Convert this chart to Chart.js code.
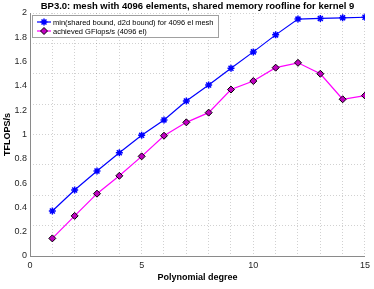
<html>
  <head>
    <meta charset="UTF-8">
    <title>BP3.0 roofline</title>
    <script src="https://cdn.jsdelivr.net/npm/chart.js@4.4.0/dist/chart.umd.min.js"></script>
    <style>
      body { margin: 0; background: #fff; }
      .chartWrapper { width: 374px; height: 289px; }
    </style>
  </head>
  <body>
    <div class="chartWrapper">
      <canvas id="chartRoofline" width="374" height="289"></canvas>
    </div>

    <script>
      // polynomial degree
      const degrees = [1, 2, 3, 4, 5, 6, 7, 8, 9, 10, 11, 12, 13, 14, 15];
      // min(shared bound, d2d bound), TFLOPS/s
      const boundValues = [0.37, 0.543, 0.70, 0.85, 0.993, 1.12, 1.276, 1.407, 1.545, 1.68, 1.82, 1.95, 1.955, 1.96, 1.965];
      // achieved, TFLOPS/s
      const achievedValues = [0.145, 0.33, 0.513, 0.66, 0.82, 0.99, 1.10, 1.18, 1.37, 1.44, 1.55, 1.59, 1.50, 1.29, 1.32];

      const xTickLabels = [0, 5, 10, 15];
      const yTickLabels = [0, 0.2, 0.4, 0.6, 0.8, 1, 1.2, 1.4, 1.6, 1.8, 2];

      const boundLabel = 'min(shared bound, d2d bound) for 4096 el mesh';
      const achievedLabel = 'achieved GFlops/s (4096 el)';
      const titleText = 'BP3.0: mesh with 4096 elements, shared memory roofline for kernel 9';

      const fontFamily = '"Liberation Sans", Arial, sans-serif';
      const axisColor = '#262626';
      const axisLineColor = '#8a8a8a';
      const gridColor = 'rgba(0,0,0,0.18)';

      // title centred over the axes, like matlab
      const axesTitle = {
        id: 'axesTitle',
        afterDraw(chart) {
          const ctx = chart.ctx;
          const area = chart.chartArea;
          ctx.save();
          ctx.font = 'bold 9.5px ' + fontFamily;
          ctx.fillStyle = '#000';
          ctx.textAlign = 'center';
          ctx.textBaseline = 'middle';
          ctx.fillText(titleText, (area.left + area.right) / 2, 6);
          ctx.restore();
        }
      };

      // matlab style legend drawn inside the axes
      const insideLegend = {
        id: 'insideLegend',
        afterDatasetsDraw(chart) {
          const ctx = chart.ctx;
          const area = chart.chartArea;
          const x0 = area.left + 2, y0 = area.top + 2;
          const w = 186, h = 22;
          ctx.save();
          ctx.fillStyle = '#fff';
          ctx.fillRect(x0, y0, w, h);
          ctx.strokeStyle = '#a0a0a0';
          ctx.lineWidth = 1;
          ctx.strokeRect(x0 + 0.5, y0 + 0.5, w, h);
          ctx.font = '7.5px ' + fontFamily;
          ctx.textBaseline = 'middle';
          chart.data.datasets.forEach((ds, i) => {
            const yy = y0 + 7 + i * 9;
            ctx.strokeStyle = ds.borderColor;
            ctx.lineWidth = 1.2;
            ctx.beginPath();
            ctx.moveTo(x0 + 5, yy);
            ctx.lineTo(x0 + 19, yy);
            ctx.stroke();
            ctx.fillStyle = ds.pointBackgroundColor;
            ctx.strokeStyle = ds.pointBorderColor;
            ctx.lineWidth = ds.pointBorderWidth;
            Chart.helpers.drawPoint(ctx, {
              pointStyle: ds.pointStyle,
              radius: ds.pointRadius,
              rotation: 0,
              borderWidth: ds.pointBorderWidth
            }, x0 + 12, yy);
            ctx.fillStyle = '#000';
            ctx.fillText(ds.label, x0 + 21, yy + 0.5);
          });
          ctx.restore();
        }
      };

      document.addEventListener("DOMContentLoaded", function() {
        chartRoofline = new Chart(document.getElementById('chartRoofline'), {
          type: 'line',
          data: {
            labels: degrees,
            datasets: [{
              label: boundLabel,
              data: degrees.map((d, i) => ({x: d, y: boundValues[i]})),
              borderColor: '#0000ff',
              borderWidth: 1.2,
              pointStyle: 'star',
              pointRadius: 3.5,
              pointBorderWidth: 1.5,
              pointBorderColor: '#0000ff',
              pointBackgroundColor: '#0000ff',
            }, {
              label: achievedLabel,
              data: degrees.map((d, i) => ({x: d, y: achievedValues[i]})),
              borderColor: '#ff00ff',
              borderWidth: 1.2,
              pointStyle: 'rectRot',
              pointRadius: 3.5,
              pointBorderWidth: 1,
              pointBorderColor: '#000',
              pointBackgroundColor: '#c000c0',
            }]
          },
          options: {
            responsive: false,
            animation: false,
            layout: {
              padding: {left: 0, right: 7, top: 13, bottom: 0}
            },
            scales: {
              x: {
                type: 'linear',
                min: 0,
                max: 15,
                afterFit: (s) => { s.height = 33; },
                afterBuildTicks: (s) => {
                  s.ticks = degrees.concat([0]).sort((a, b) => a - b).map(v => ({value: v}));
                },
                ticks: {
                  autoSkip: false,
                  maxRotation: 0,
                  padding: 4,
                  color: axisColor,
                  font: {family: fontFamily, size: 9},
                  callback: (v) => xTickLabels.includes(v) ? String(v) : '',
                },
                grid: {
                  color: gridColor,
                  drawTicks: false,
                },
                border: {
                  color: axisLineColor,
                  width: 1,
                  dash: [1, 2],
                },
                title: {
                  display: true,
                  text: 'Polynomial degree',
                  color: '#000',
                  font: {family: fontFamily, size: 9, weight: 'bold'},
                  padding: {top: 0, bottom: 6},
                },
              },
              y: {
                min: 0,
                max: 2,
                afterFit: (s) => { s.width = 30; },
                afterBuildTicks: (s) => {
                  s.ticks = yTickLabels.map(v => ({value: v}));
                },
                ticks: {
                  padding: 3,
                  color: axisColor,
                  font: {family: fontFamily, size: 9},
                  callback: (v) => String(Math.round(v * 10) / 10),
                },
                grid: {
                  drawOnChartArea: false,
                  drawTicks: false,
                },
                border: {
                  color: axisLineColor,
                  width: 1,
                },
                title: {
                  display: true,
                  text: 'TFLOPS/s',
                  color: '#000',
                  font: {family: fontFamily, size: 9, weight: 'bold'},
                  padding: {top: 2, bottom: 0},
                },
              },
              // grid at quarter steps, as in the reference
              yGrid: {
                type: 'linear',
                position: 'left',
                min: 0,
                max: 2,
                afterFit: (s) => { s.width = 0; },
                ticks: {display: false, stepSize: 0.25},
                grid: {
                  color: gridColor,
                  drawTicks: false,
                },
                border: {
                  display: false,
                  dash: [1, 2],
                },
              },
            },
            plugins: {
              legend: {display: false},
              tooltip: {enabled: false},
              title: {display: false},
            },
          },
          plugins: [insideLegend, axesTitle],
        });
      });
    </script>
  </body>
</html>
